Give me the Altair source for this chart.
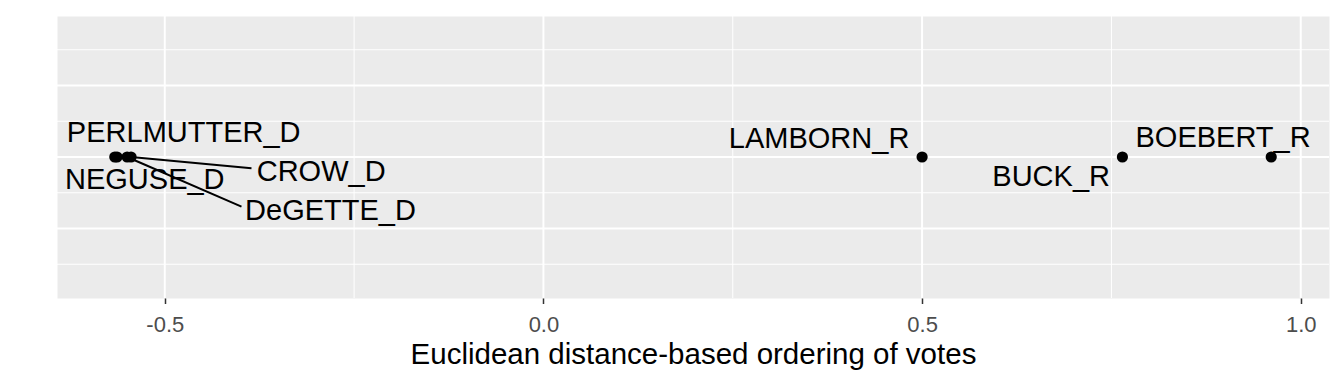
import altair as alt
import pandas as pd

# ---- data ----
members = ["PERLMUTTER_D", "NEGUSE_D", "DeGETTE_D", "CROW_D", "LAMBORN_R", "BUCK_R", "BOEBERT_R"]
ordering = [-0.566, -0.563, -0.5497, -0.5445, 0.500, 0.7645, 0.961]
# repelled label positions (data units), as a label-repel step would output
label_x = [-0.475, -0.5264, -0.2812, -0.2935, 0.364, 0.6704, 0.8974]
label_y = [0.336, -0.326, -0.759, -0.215, 0.257, -0.274, 0.271]
# connector segment ends (data units); None where no segment is drawn
segment_x_end = [None, None, -0.3987, -0.3855, None, None, None]
segment_y_end = [None, None, -0.695, -0.158, None, None, None]

x_major = [-0.5, 0.0, 0.5, 1.0]
x_minor = [-0.25, 0.25, 0.75]
y_major = [-1.0, 0.0, 1.0]
y_minor = [-1.5, -0.5, 0.5, 1.5]
x_domain = [-0.6423, 1.0373]
y_domain = [-1.972, 1.972]

df = pd.DataFrame({
    "member": members,
    "ordering": ordering,
    "y": [0.0] * len(members),
    "label_x": label_x,
    "label_y": label_y,
    "seg_x": segment_x_end,
    "seg_y": segment_y_end,
})
seg_df = df.dropna(subset=["seg_x"])

xs = alt.Scale(domain=x_domain, nice=False, zero=False)
ys = alt.Scale(domain=y_domain, nice=False, zero=False)

XT = "Euclidean distance-based ordering of votes"
xaxis = alt.Axis(
    values=x_major,
    labelExpr="datum.value < 0 ? '-' + format(-datum.value, '.1f') : format(datum.value, '.1f')",
    title=XT,
)

vmaj = alt.Chart(pd.DataFrame({"v": x_major})).mark_rule(color="white", strokeWidth=2).encode(
    x=alt.X("v:Q", scale=xs, axis=xaxis, title=XT))
vmin = alt.Chart(pd.DataFrame({"v": x_minor})).mark_rule(color="white", strokeWidth=1).encode(
    x=alt.X("v:Q", scale=xs, axis=xaxis, title=XT))
hmaj = alt.Chart(pd.DataFrame({"h": y_major})).mark_rule(color="white", strokeWidth=2).encode(
    y=alt.Y("h:Q", scale=ys, axis=None))
hmin = alt.Chart(pd.DataFrame({"h": y_minor})).mark_rule(color="white", strokeWidth=1).encode(
    y=alt.Y("h:Q", scale=ys, axis=None))

segs = alt.Chart(seg_df).mark_rule(color="black", strokeWidth=2).encode(
    x=alt.X("ordering:Q", scale=xs, axis=xaxis, title=XT),
    x2="seg_x:Q",
    y=alt.Y("y:Q", scale=ys, axis=None),
    y2="seg_y:Q",
)

points = alt.Chart(df).mark_circle(color="black", opacity=1, size=125).encode(
    x=alt.X("ordering:Q", scale=xs, axis=xaxis, title=XT),
    y=alt.Y("y:Q", scale=ys, axis=None),
)

labels = alt.Chart(df).mark_text(
    font="Liberation Sans", fontSize=29, color="black", align="center", baseline="middle"
).encode(
    x=alt.X("label_x:Q", scale=xs, axis=xaxis, title=XT),
    y=alt.Y("label_y:Q", scale=ys, axis=None),
    text="member:N",
)

chart = alt.layer(vmin, vmaj, hmin, hmaj, segs, points, labels).properties(
    width=1272,
    height=282,
    autosize="none",
    padding={"left": 57, "top": 16, "right": 15, "bottom": 86},
    background="white",
).configure_view(
    fill="#EBEBEB", strokeOpacity=0
).configure_axis(
    grid=False,
    domain=False,
    labelFont="Liberation Sans",
    labelFontSize=22,
    labelColor="#4D4D4D",
    labelPadding=11,
    tickColor="#333333",
    tickWidth=1.5,
    tickSize=5.5,
    titleFont="Liberation Sans",
    titleFontSize=29.5,
    titleFontWeight="normal",
    titleColor="black",
    titleBaseline="alphabetic",
    titleY=65,
)

chart.save("out.html", embed_options={"renderer": "svg", "actions": False})
